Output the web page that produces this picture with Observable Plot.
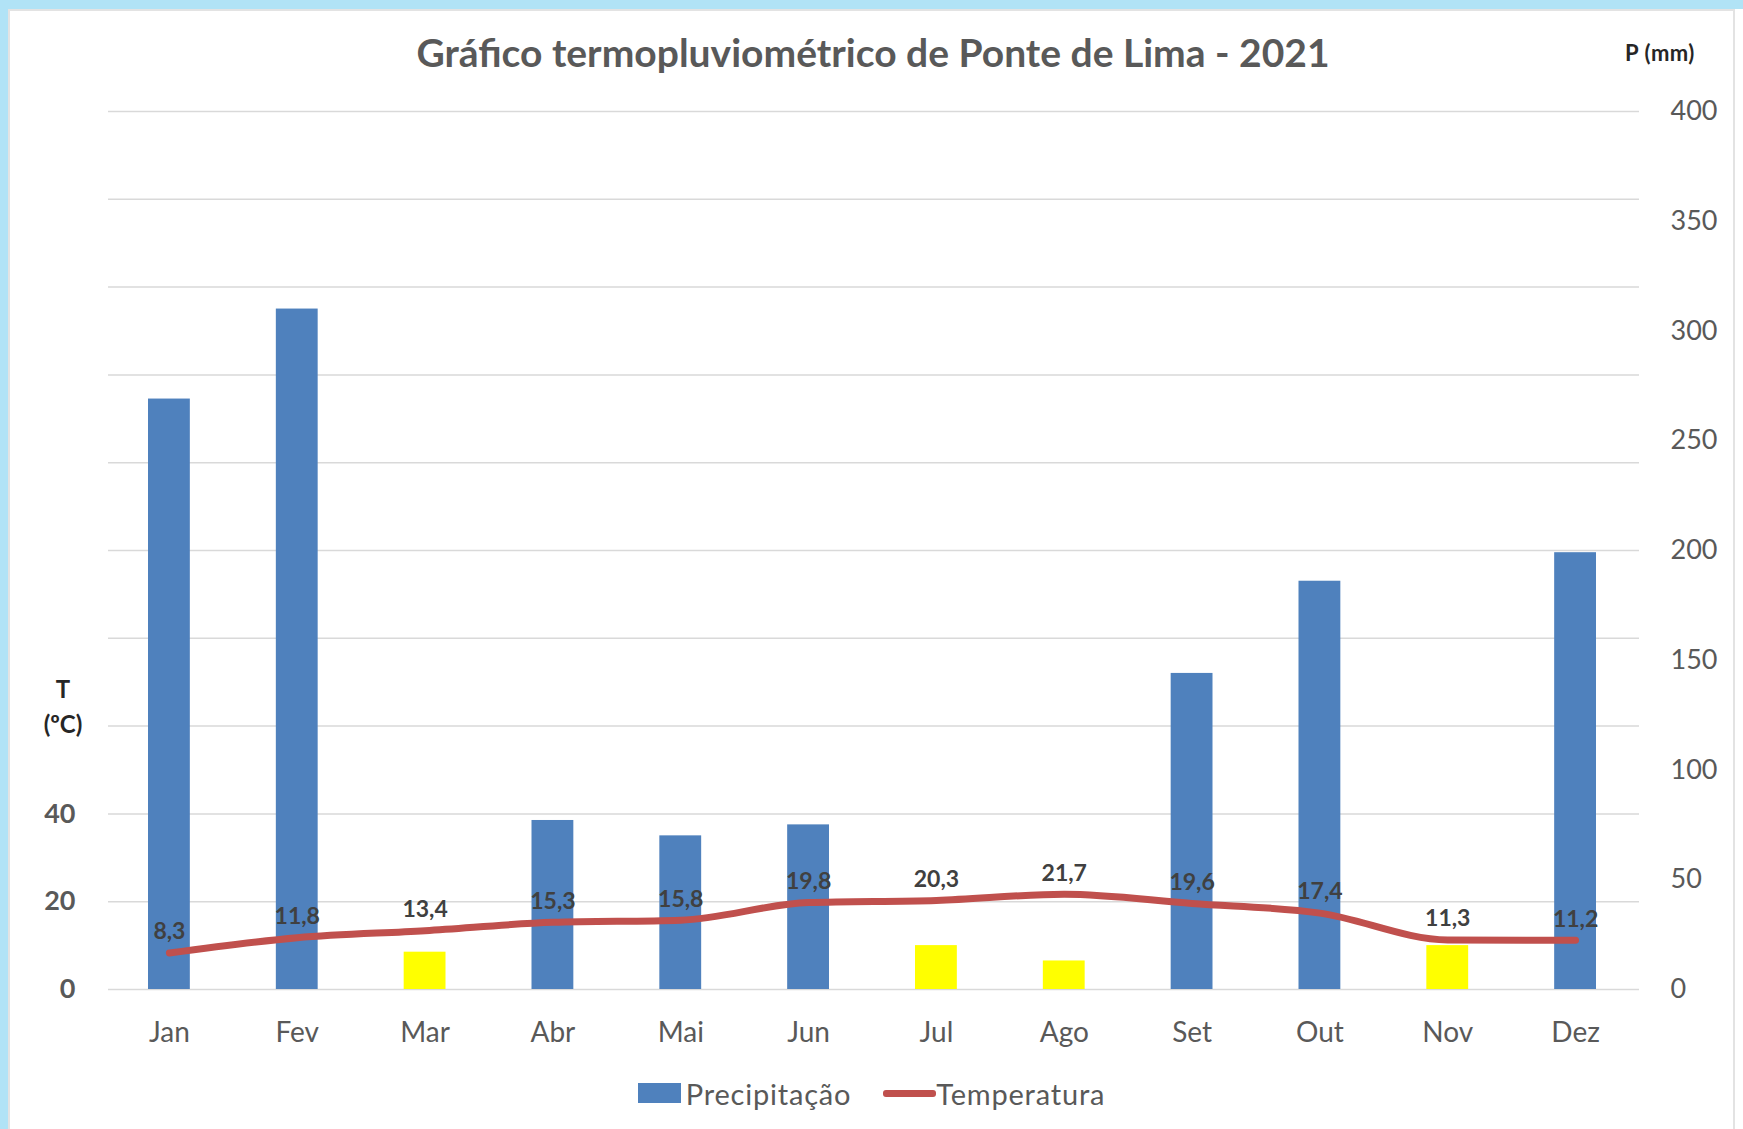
<!DOCTYPE html>
<html>
<head>
<meta charset="utf-8">
<script src="https://cdn.jsdelivr.net/npm/d3@7"></script>
<script src="https://cdn.jsdelivr.net/npm/@observablehq/plot@0.6"></script>
<style>
  html, body { margin: 0; padding: 0; background: #fff; }
  body { width: 1743px; height: 1129px; overflow: hidden; position: relative; font-family: Lato, "Open Sans", sans-serif; }
  #frame { position: absolute; left: 0; top: 0; width: 1743px; height: 1129px; box-sizing: border-box;
           border-top: 9px solid #b1e3f6; border-left: 8px solid #b1e3f6; }
  #inner { position: absolute; left: 8px; top: 9px; width: 1727px; height: 1120px; box-sizing: border-box;
           border-left: 2px solid #e3e3e3; border-right: 2px solid #e3e3e3; border-top: 2px solid #e3e3e3; }
  #title { position: absolute; left: 0; width: 1746px; top: 29px; text-align: center; font-size: 39px; font-weight: 700; color: #595959; line-height: 46px; }
  #pmm { position: absolute; left: 1600px; width: 120px; top: 40px; text-align: center; font-size: 22px; font-weight: 700; color: #262626; line-height: 26px; letter-spacing: 0.5px; }
  #tc { position: absolute; left: 28px; width: 70px; top: 671px; text-align: center; font-size: 24px; font-weight: 700; color: #262626; line-height: 35px; }
  #chart { position: absolute; left: 0; top: 70px; }
  #legend { position: absolute; left: 0; width: 1743px; top: 1076px; height: 34px; display: flex; justify-content: center; align-items: center; font-size: 29px; color: #595959; letter-spacing: 0.8px; }
  .sw { display: inline-block; }
  .item { display: flex; align-items: center; margin: 0 16px; }
</style>
</head>
<body>
<div id="frame"></div>
<div id="inner"></div>
<div id="title">Gráfico termopluviométrico de Ponte de Lima - 2021</div>
<div id="pmm">P (mm)</div>
<div id="tc">T<br>(ºC)</div>
<div id="chart"></div>
<div id="legend">
  <div class="item"><span class="sw" style="width:43px;height:20px;background:#4F81BD;"></span><span style="margin-left:5px">Precipitação</span></div>
  <div class="item"><span class="sw" style="width:53px;height:7px;background:#C0504D;border-radius:3px;"></span><span>Temperatura</span></div>
</div>
<script>
const months = ["Jan","Fev","Mar","Abr","Mai","Jun","Jul","Ago","Set","Out","Nov","Dez"];
const precipitation = [269, 310, 17, 77, 70, 75, 20, 13, 144, 186, 20, 199];
const temperature = [8.3, 11.8, 13.4, 15.3, 15.8, 19.8, 20.3, 21.7, 19.6, 17.4, 11.3, 11.2];
const leftTicks = [0, 20, 40];
const rightTicks = [0, 50, 100, 150, 200, 250, 300, 350, 400];
const gridTicks = [0, 20, 40, 60, 80, 100, 120, 140, 160, 180, 200];

const data = months.map((m, i) => ({month: m, P: precipitation[i], T: temperature[i]}));
// P axis (0–400 mm) shares the vertical scale with T (0–200 °C): P = 2T
const pToY = p => p / 2;
const fmt = v => String(v).replace(".", ",");

const chart = Plot.plot({
  width: 1743,
  height: 990,
  marginLeft: 105,
  marginRight: 104,
  marginTop: 41,
  marginBottom: 71,
  style: {fontFamily: "Lato, 'Open Sans', sans-serif", background: "transparent", overflow: "visible"},
  x: {type: "band", domain: months, padding: 0, round: false},
  y: {domain: [0, 200]},
  marks: [
    Plot.ruleY(gridTicks, {stroke: "#d9d9d9", strokeWidth: 1.5, insetLeft: 3}),
    Plot.barY(data, {x: "month", y: d => pToY(d.P), fill: d => d.P < 2 * d.T ? "#FFFF00" : "#4F81BD", insetLeft: 43, insetRight: 43}),
    Plot.line(data, {x: "month", y: "T", stroke: "#C0504D", strokeWidth: 7, curve: "monotone-x", strokeLinecap: "round"}),
    Plot.text(data, {x: "month", y: "T", text: d => fmt(d.T), dy: -21, fontSize: 23, fontWeight: "bold", fill: "#404040"}),
    Plot.axisY({ticks: leftTicks, tickSize: 0, tickPadding: 30, fontSize: 27, fontWeight: "bold", color: "#595959", label: null}),
    Plot.axisY({anchor: "right", ticks: rightTicks.map(pToY), tickFormat: d => String(d * 2), tickSize: 0, tickPadding: 31, fontSize: 27, color: "#595959", label: null}),
    Plot.axisX({tickSize: 0, tickPadding: 33, fontSize: 28, color: "#595959", label: null})
  ]
});
document.getElementById("chart").appendChild(chart);
</script>
</body>
</html>
